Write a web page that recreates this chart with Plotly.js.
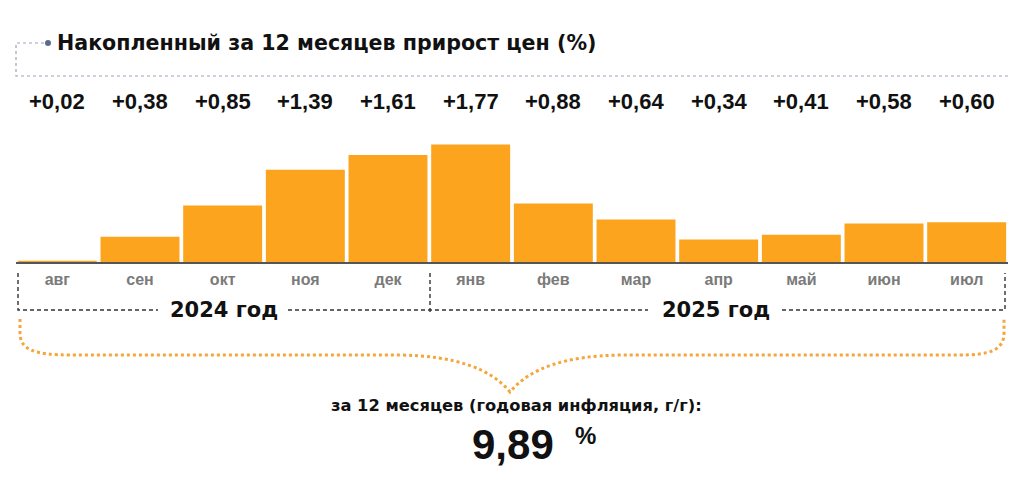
<!DOCTYPE html>
<html>
<head>
<meta charset="utf-8">
<script src="https://cdn.plot.ly/plotly-3.0.1.min.js"></script>
<style>html,body{margin:0;padding:0;background:#fff}#chart{width:1024px;height:492px}</style>
</head>
<body>
<div id="chart"></div>
<script>
const months = ['авг','сен','окт','ноя','дек','янв','фев','мар','апр','май','июн','июл'];
const values = [0.02,0.38,0.85,1.39,1.61,1.77,0.88,0.64,0.34,0.41,0.58,0.60];
const yearLabels = ['2024 год','2025 год'];
const titleText = 'Накопленный за 12 месяцев прирост цен (%)';
const summaryLabel = 'за 12 месяцев (годовая инфляция, г/г):';
const annualInflation = 9.89;

const W = 1024, H = 492, L = 16, R = 16, T = 140, B = 230;
const PW = W - L - R, PH = H - T - B, BOT = H - B;
const px = x => (x - L) / PW;
const py = y => (BOT - y) / PH;
function toPaper(d) {
  let i = 0;
  return d.replace(/-?\d+(\.\d+)?/g, m => {
    const v = +m; const r = (i % 2 === 0) ? px(v) : py(v); i++;
    return r.toFixed(5);
  });
}
const FONT = 'Liberation Sans, Arial, sans-serif';
const WIDE = 'DejaVu Sans, Verdana, sans-serif';
const fmt = v => '+' + v.toFixed(2).replace('.', ',');

const trace = {
  type: 'bar', x: months, y: values,
  marker: {color: '#FDA41F', line: {width: 0}},
  hoverinfo: 'skip'
};

const annotations = [];
months.forEach((m, i) => {
  annotations.push({
    x: m, xref: 'x', y: py(101), yref: 'paper', text: fmt(values[i]),
    showarrow: false, xanchor: 'center', yanchor: 'middle',
    font: {family: FONT, size: 22, color: '#111', weight: 'bold'}
  });
});
annotations.push({x: px(224), y: py(310), xref: 'paper', yref: 'paper', text: yearLabels[0], showarrow: false,
  xanchor: 'center', yanchor: 'middle', font: {family: WIDE, size: 21, color: '#111', weight: 'bold'}});
annotations.push({x: px(716), y: py(310), xref: 'paper', yref: 'paper', text: yearLabels[1], showarrow: false,
  xanchor: 'center', yanchor: 'middle', font: {family: WIDE, size: 21, color: '#111', weight: 'bold'}});
annotations.push({x: px(516), y: py(405), xref: 'paper', yref: 'paper', text: summaryLabel, showarrow: false,
  xanchor: 'center', yanchor: 'middle', font: {family: WIDE, size: 16.3, color: '#111', weight: 'bold'}});
annotations.push({x: px(513), y: py(444), xref: 'paper', yref: 'paper', text: annualInflation.toFixed(2).replace('.', ','), showarrow: false,
  xanchor: 'center', yanchor: 'middle', font: {family: FONT, size: 42, color: '#111', weight: 'bold'}});
annotations.push({x: px(573), y: py(435), xref: 'paper', yref: 'paper', text: '%', showarrow: false,
  xanchor: 'left', yanchor: 'middle', font: {family: FONT, size: 24, color: '#111', weight: 'bold'}});

const dashGray = {color: '#9AA5B8', width: 1.2, dash: '3px,3px'};
const dashDark = {color: '#333', width: 1.4, dash: '4px,3px'};
const shapes = [
  {type: 'path', xref: 'paper', yref: 'paper', path: toPaper('M 44 43 L 16 43 L 16 76 L 1008 76'), line: dashGray},
  {type: 'circle', xref: 'paper', yref: 'paper', x0: px(45), x1: px(51), y0: py(40), y1: py(46), fillcolor: '#5B6B84', line: {width: 0}},
  {type: 'path', xref: 'paper', yref: 'paper', path: toPaper('M 18 273 L 18 310 L 158 310'), line: dashDark},
  {type: 'path', xref: 'paper', yref: 'paper', path: toPaper('M 288 310 L 648 310'), line: dashDark},
  {type: 'path', xref: 'paper', yref: 'paper', path: toPaper('M 430 273 L 430 313'), line: dashDark},
  {type: 'path', xref: 'paper', yref: 'paper', path: toPaper('M 782 310 L 1005 310 L 1005 273'), line: dashDark},
  {type: 'path', xref: 'paper', yref: 'paper',
    path: toPaper('M 20 319 L 20 333 C 20 350 35 355 70 355 L 400 355 C 455 356 490 368 510 392 C 530 368 565 356 620 355 L 960 355 C 990 355 1004 350 1004 333 L 1004 319'),
    line: {color: '#F5A53A', width: 3, dash: 'dot'}}
];

const layout = {
  width: W, height: H,
  margin: {l: L, r: R, t: T, b: B, pad: 0},
  paper_bgcolor: '#fff', plot_bgcolor: '#fff',
  showlegend: false, bargap: 0.045,
  title: {text: titleText, x: 57 / W, xanchor: 'left', xref: 'container', y: 1 - 43 / H, yref: 'container', yanchor: 'middle',
    font: {family: WIDE, size: 20.6, color: '#111', weight: 'bold'}},
  xaxis: {type: 'category', showline: true, linecolor: '#555', linewidth: 2, ticks: '', showgrid: false, zeroline: false,
    ticklabelstandoff: 2,
    tickfont: {family: FONT, size: 16, color: '#7A7A7A', weight: 'bold'}, fixedrange: true},
  yaxis: {range: [0, PH / 66.4], visible: false, showgrid: false, zeroline: false, fixedrange: true},
  annotations: annotations, shapes: shapes
};
Plotly.newPlot('chart', [trace], layout, {displayModeBar: false, staticPlot: true});
</script>
</body>
</html>
